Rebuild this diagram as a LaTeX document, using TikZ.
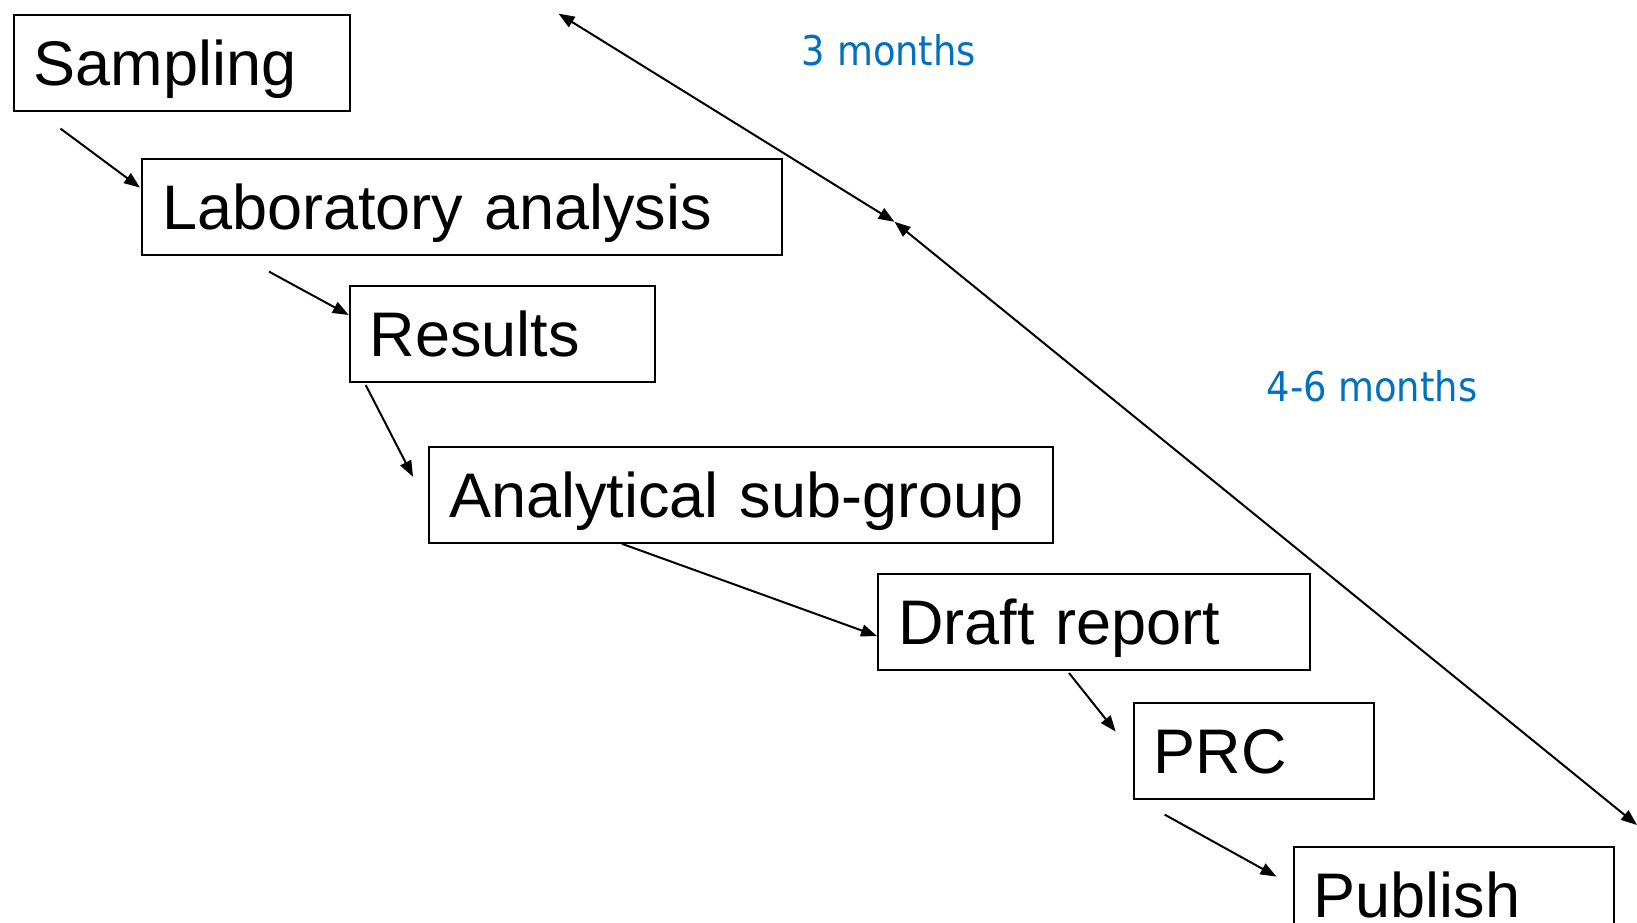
\documentclass[tikz,border=0pt]{standalone}
\usepackage{fontspec}
\setmainfont{Liberation Sans}
\newfontfamily\notefont{DejaVu Sans Condensed}
\usetikzlibrary{arrows.meta}
\definecolor{noteblue}{RGB}{0,112,192}

\begin{document}
\begin{tikzpicture}
[ x=1pt, y=-1pt, line width=2pt
, stage/.style={rectangle, draw, anchor=north west, minimum height=96pt, inner xsep=20pt, inner ysep=0pt, text height=45pt, text depth=0pt, align=left, font=\fontsize{63}{69}\selectfont}
, flow/.style={-{Triangle[length=16pt, width=12pt]}}
, span/.style={{Triangle[length=16pt, width=12pt]}-{Triangle[length=16pt, width=12pt]}}
, note/.style={text=noteblue, font=\notefont\fontsize{41}{46}\selectfont}
]
\useasboundingbox (0,0) rectangle (1637,922);
% The stages:
\node (samp) [stage, text width=296pt] at (12.5,13.6) {Sampling};
\node (lab) [stage, text width=600pt] at (141,157.6) {Laboratory analysis};
\node (res) [stage, text width=265pt] at (348.7,285) {Results};
\node (ana) [stage, text width=584pt] at (428,445.8) {Analytical sub-group};
\node (draft) [stage, text width=392pt] at (877,573) {Draft report};
\node (prc) [stage, text width=200pt] at (1132.7,701.6) {PRC};
\node (pub) [stage, text width=280pt] at (1292.5,845.6) {Publish};
% The flow between stages:
\draw [flow] ([shift={(48,17)}]samp.south west) -- ([shift={(-1,30)}]lab.north west);
\draw [flow] ([shift={(128,16)}]lab.south west) -- ([shift={(0,30)}]res.north west);
\draw [flow] ([shift={(17,2)}]res.south west) -- ([shift={(-15,31)}]ana.north west);
\draw [flow] ([shift={(194,0)}]ana.south west) -- ([shift={(0,63)}]draft.north west);
\draw [flow] ([shift={(192,2)}]draft.south west) -- ([shift={(-17,30)}]prc.north west);
\draw [flow] ([shift={(32,15)}]prc.south west) -- ([shift={(-16,31)}]pub.north west);
% The time spans:
\coordinate (t0) at (558.5,13.6);
\coordinate (t1) at (894.5,221.8);
\coordinate (t2) at (1637,825);
\draw [span] (t0) -- (t1);
\draw [span] (t1) -- (t2);
\node (three) [note] at (889,50) {3 months};
\node (six) [note] at (1372,386) {4-6 months};
\end{tikzpicture}
\end{document}
